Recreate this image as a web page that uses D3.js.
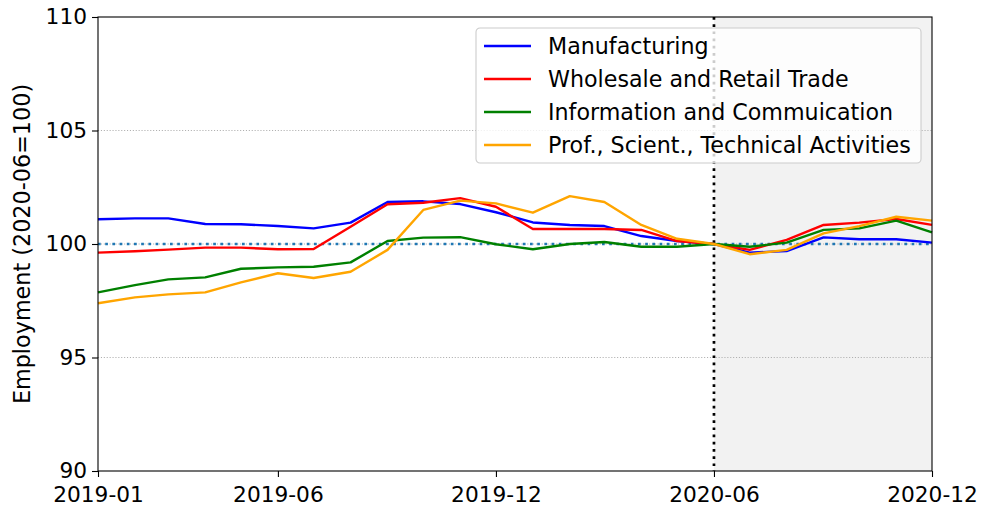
<!DOCTYPE html>
<html>
<head>
<meta charset="utf-8">
<script src="https://cdn.jsdelivr.net/npm/d3@7"></script>
<style>
  body { margin: 0; background: #fff; }
  svg { display: block; font-family: "DejaVu Sans", sans-serif; }
  .tick text { font-family: "DejaVu Sans", sans-serif; font-size: 21.7px; fill: #000; }
  .legend text { font-family: "DejaVu Sans", sans-serif; font-size: 22.2px; fill: #000; }
</style>
</head>
<body>
<div id="chart"></div>
<script>
// Monthly employment index, 2020-06 = 100
const months = ['2019-01', '2019-02', '2019-03', '2019-04', '2019-05', '2019-06',
    '2019-07', '2019-08', '2019-09', '2019-10', '2019-11', '2019-12',
    '2020-01', '2020-02', '2020-03', '2020-04', '2020-05', '2020-06',
    '2020-07', '2020-08', '2020-09', '2020-10', '2020-11', '2020-12'];

const manufacturing = [101.09, 101.13, 101.13, 100.88, 100.87, 100.79, 100.69, 100.94,
    101.85, 101.88, 101.76, 101.40, 100.95, 100.84, 100.79, 100.35, 100.13, 100.00,
    99.62, 99.69, 100.29, 100.21, 100.21, 100.06];
const wholesale = [99.62, 99.68, 99.75, 99.84, 99.84, 99.77, 99.78, 100.76,
    101.75, 101.82, 102.02, 101.64, 100.66, 100.66, 100.66, 100.62, 100.13, 100.00,
    99.74, 100.18, 100.84, 100.94, 101.10, 100.84];
const infoComm = [97.87, 98.19, 98.44, 98.53, 98.91, 98.97, 99.00, 99.19,
    100.13, 100.28, 100.30, 99.99, 99.77, 100.00, 100.09, 99.88, 99.88, 100.00,
    99.88, 100.06, 100.62, 100.69, 101.03, 100.51];
const profSci = [97.39, 97.65, 97.78, 97.87, 98.31, 98.71, 98.50, 98.78,
    99.74, 101.50, 101.91, 101.79, 101.38, 102.11, 101.85, 100.84, 100.23, 100.00,
    99.55, 99.74, 100.47, 100.79, 101.20, 101.03];

const seriesNames = ['Manufacturing', 'Wholesale and Retail Trade',
    'Information and Commuication', 'Prof., Scient., Technical Activities'];
const seriesColors = ['#0000ff', '#ff0000', '#008000', '#ffa500'];
const seriesValues = [manufacturing, wholesale, infoComm, profSci];

const xTicks = ['2019-01', '2019-06', '2019-12', '2020-06', '2020-12'];
const yTicks = [90, 95, 100, 105, 110];
const baseMonth = '2020-06';

const width = 982, height = 510;
const margin = { top: 17, right: 50, bottom: 39, left: 98 };
const innerW = width - margin.left - margin.right;
const innerH = height - margin.top - margin.bottom;

const parse = d3.timeParse('%Y-%m');
const fmt = d3.timeFormat('%Y-%m');

const x = d3.scaleTime()
    .domain([parse(months[0]), parse(months[months.length - 1])])
    .range([0, innerW]);
const y = d3.scaleLinear().domain([90, 110]).range([innerH, 0]);

const svg = d3.select('#chart').append('svg')
    .attr('width', width)
    .attr('height', height);

const g = svg.append('g')
    .attr('transform', `translate(${margin.left},${margin.top})`);

// Shaded period after the base month
g.append('rect')
    .attr('x', x(parse(baseMonth)))
    .attr('y', 0)
    .attr('width', innerW - x(parse(baseMonth)))
    .attr('height', innerH)
    .attr('fill', '#f2f2f2');

// Horizontal grid lines
g.selectAll('.grid')
    .data(yTicks.filter(d => d > 90 && d < 110))
    .enter()
    .append('line')
    .attr('class', 'grid')
    .attr('x1', 0).attr('x2', innerW)
    .attr('y1', d => y(d)).attr('y2', d => y(d))
    .attr('stroke', '#b0b0b0')
    .attr('stroke-width', 1.1)
    .attr('stroke-dasharray', '1.1,1.8');

// Reference line at 100
g.append('line')
    .attr('x1', 0).attr('x2', innerW)
    .attr('y1', y(100)).attr('y2', y(100))
    .attr('stroke', '#1f77b4')
    .attr('stroke-width', 2.7)
    .attr('stroke-dasharray', '2.7,4.5');

// Vertical line at base month
g.append('line')
    .attr('x1', x(parse(baseMonth))).attr('x2', x(parse(baseMonth)))
    .attr('y1', 0).attr('y2', innerH)
    .attr('stroke', '#000')
    .attr('stroke-width', 2.7)
    .attr('stroke-dasharray', '2.7,4.5');

// Series lines
const line = d3.line()
    .x((d, i) => x(parse(months[i])))
    .y(d => y(d));

seriesValues.forEach((vals, i) => {
    g.append('path')
        .datum(vals)
        .attr('fill', 'none')
        .attr('stroke', seriesColors[i])
        .attr('stroke-width', 2.4)
        .attr('stroke-linejoin', 'round')
        .attr('d', line);
});

// Axes
const xAxis = g.append('g')
    .attr('transform', `translate(0,${innerH})`)
    .call(d3.axisBottom(x)
        .tickValues(xTicks.map(parse))
        .tickFormat(fmt)
        .tickSize(6)
        .tickPadding(4));

const yAxis = g.append('g')
    .call(d3.axisLeft(y)
        .tickValues(yTicks)
        .tickSize(6)
        .tickPadding(5));

[xAxis, yAxis].forEach(ax => {
    ax.attr('font-family', null).attr('font-size', null);
    ax.select('.domain').remove();
    ax.selectAll('.tick line').attr('stroke', '#000').attr('stroke-width', 1.1);
});
xAxis.selectAll('.tick text').attr('dy', '0.95em');

// Frame
g.append('rect')
    .attr('width', innerW)
    .attr('height', innerH)
    .attr('fill', 'none')
    .attr('stroke', '#000')
    .attr('stroke-width', 1.1);

// Y axis label
svg.append('text')
    .attr('transform', `translate(30,${margin.top + innerH / 2}) rotate(-90)`)
    .attr('text-anchor', 'middle')
    .style('font-size', '22.3px')
    .text('Employment (2020-06=100)');

// Legend
const legend = svg.append('g')
    .attr('class', 'legend')
    .attr('transform', 'translate(476,28)');

legend.append('rect')
    .attr('width', 445)
    .attr('height', 135)
    .attr('rx', 4)
    .attr('fill', 'rgba(255,255,255,0.8)')
    .attr('stroke', '#cccccc')
    .attr('stroke-width', 1.1);

const items = legend.selectAll('.item')
    .data(seriesNames)
    .enter()
    .append('g')
    .attr('class', 'item')
    .attr('transform', (d, i) => `translate(0,${18 + i * 33})`);

items.append('line')
    .attr('x1', 8).attr('x2', 55)
    .attr('stroke', (d, i) => seriesColors[i])
    .attr('stroke-width', 2.4);

items.append('text')
    .attr('x', 72)
    .attr('dy', '0.36em')
    .text(d => d);
</script>
</body>
</html>
